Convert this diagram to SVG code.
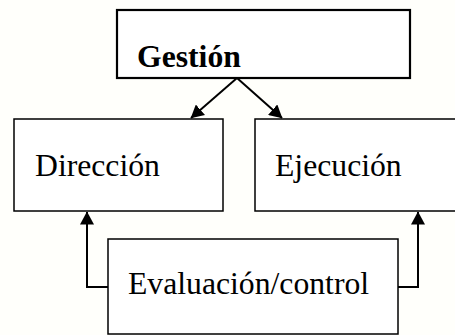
<svg xmlns="http://www.w3.org/2000/svg" width="455" height="335" viewBox="0 0 455 335">
<style>
.box{fill:#ffffff;stroke:#000;stroke-width:1.5}
.t{font-family:"Liberation Serif","Times New Roman",serif;font-size:31.7px;fill:#000}
.c{fill:none;stroke:#000;stroke-width:2}
</style>
<defs>
<marker id="ah" viewBox="0 0 13 14" refX="12.5" refY="7" markerWidth="13" markerHeight="14" markerUnits="userSpaceOnUse" orient="auto">
<path d="M0,0 L13,7 L0,14 Z" fill="#000"/>
</marker>
</defs>
<rect width="455" height="335" fill="#fffffb"/>
<g id="gestion">
<rect class="box" x="117" y="10" width="293" height="68" style="stroke-width:2.2"/>
<text class="t" x="137" y="67" font-weight="bold">Gestión</text>
</g>
<g id="direccion">
<rect class="box" x="14" y="119" width="209" height="92"/>
<text class="t" x="35" y="176">Dirección</text>
</g>
<g id="ejecucion">
<rect class="box" x="255" y="119" width="210" height="92"/>
<text class="t" x="275" y="176">Ejecución</text>
</g>
<g id="evaluacion">
<rect class="box" x="108" y="239" width="290" height="95"/>
<text class="t" x="128" y="294">Evaluación/control</text>
</g>
<g id="connectors">
<path class="c" d="M237,78 L191,118" marker-end="url(#ah)"/>
<path class="c" d="M237,78 L282,118" marker-end="url(#ah)"/>
<path class="c" d="M108,287 L87,287 L87,212" marker-end="url(#ah)"/>
<path class="c" d="M398,287 L418,287 L418,212" marker-end="url(#ah)"/>
</g>
</svg>
